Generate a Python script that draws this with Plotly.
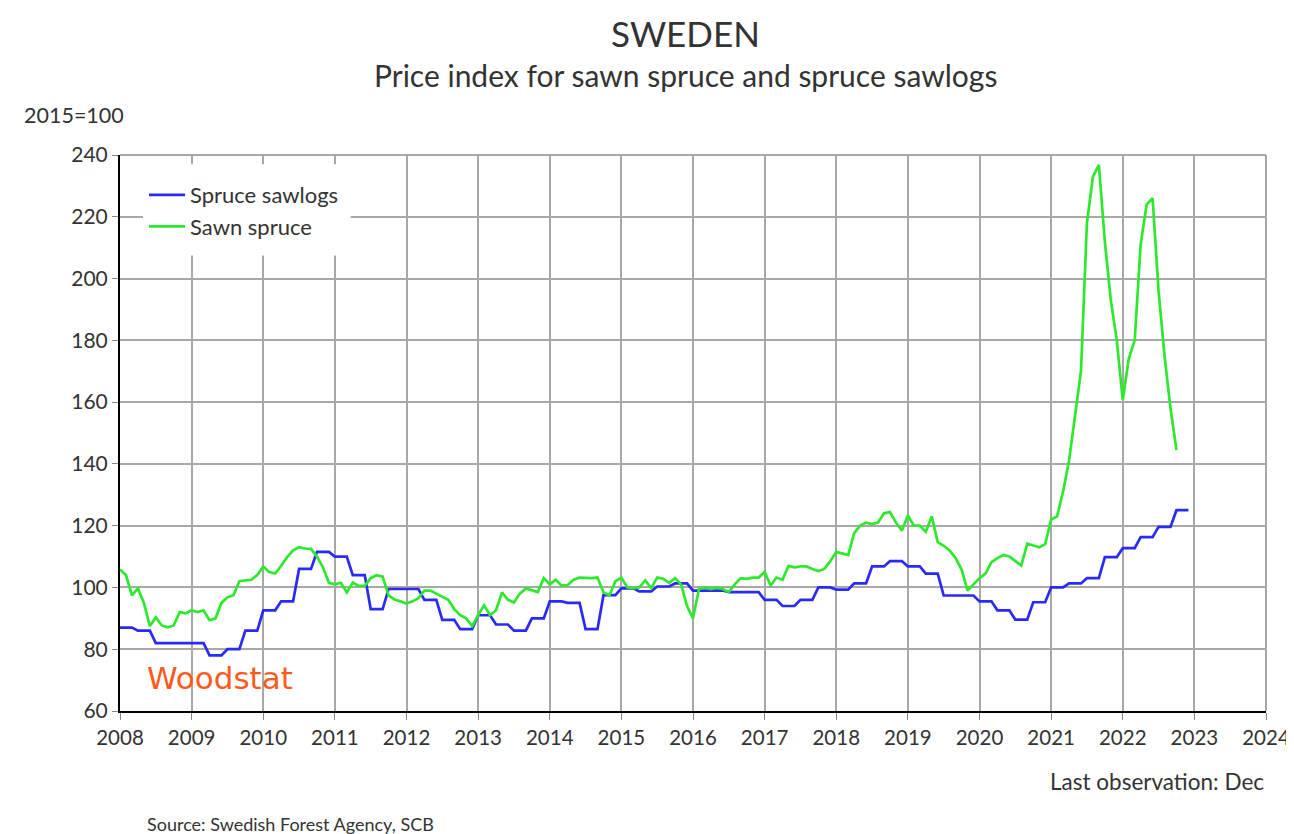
import plotly.graph_objects as go

years = list(range(2008, 2023))

# Spruce sawlogs (quarterly steps, monthly points) 2008-2022
sawlogs = {
    2008: [87, 87, 87, 86, 86, 86, 82, 82, 82, 82, 82, 82],
    2009: [82, 82, 82, 78, 78, 78, 80, 80, 80, 86, 86, 86],
    2010: [92.6, 92.6, 92.6, 95.5, 95.5, 95.5, 106, 106, 106, 111.5, 111.5, 111.5],
    2011: [110, 110, 110, 104, 104, 104, 93, 93, 93, 99.5, 99.5, 99.5],
    2012: [99.5, 99.5, 99.5, 96, 96, 96, 89.5, 89.5, 89.5, 86.5, 86.5, 86.5],
    2013: [91, 91, 91, 88, 88, 88, 86, 86, 86, 90, 90, 90],
    2014: [95.5, 95.5, 95.5, 95, 95, 95, 86.5, 86.5, 86.5, 97.5, 97.5, 97.5],
    2015: [99.7, 99.7, 99.7, 98.7, 98.7, 98.7, 100.3, 100.3, 100.3, 101.3, 101.3, 101.3],
    2016: [99, 99, 99, 99, 99, 99, 98.5, 98.5, 98.5, 98.5, 98.5, 98.5],
    2017: [96, 96, 96, 94, 94, 94, 96, 96, 96, 100, 100, 100],
    2018: [99.3, 99.3, 99.3, 101.3, 101.3, 101.3, 106.8, 106.8, 106.8, 108.5, 108.5, 108.5],
    2019: [106.8, 106.8, 106.8, 104.5, 104.5, 104.5, 97.4, 97.4, 97.4, 97.4, 97.4, 97.4],
    2020: [95.5, 95.5, 95.5, 92.6, 92.6, 92.6, 89.6, 89.6, 89.6, 95.2, 95.2, 95.2],
    2021: [100, 100, 100, 101.3, 101.3, 101.3, 103, 103, 103, 109.8, 109.8, 109.8],
    2022: [112.7, 112.7, 112.7, 116.3, 116.3, 116.3, 119.6, 119.6, 119.6, 125, 125, 125],
}

# Sawn spruce monthly 2008 - Oct 2022
sawn = {
    2008: [105.8, 104, 97.4, 99.7, 95, 87.5, 90.3, 87.7, 87.1, 87.7, 92, 91.6],
    2009: [92.6, 92, 92.6, 89.4, 90, 95, 96.8, 97.5, 102, 102.3, 102.5, 104],
    2010: [106.8, 105, 104.5, 107, 109.8, 112, 113, 112.6, 112.5, 110, 106.5, 101.5],
    2011: [101, 101.5, 98.4, 101.6, 100.5, 100.5, 103, 104, 103.5, 97.4, 96.1, 95.5],
    2012: [94.8, 95.5, 96.5, 99, 99, 98, 97, 96, 93, 91, 90, 87.5],
    2013: [91, 94.2, 91, 92.6, 98.4, 96, 95.1, 98, 99.7, 99, 98.5, 103],
    2014: [101, 102.5, 100.6, 100.8, 102.5, 103.2, 103, 103, 103.2, 98.4, 97.4, 102],
    2015: [103.2, 100, 99.8, 100, 102.3, 99.8, 103.2, 102.8, 101.5, 103, 101, 94],
    2016: [90, 99.5, 100, 99.5, 100, 99.5, 98.5, 101, 103, 102.8, 103.2, 103.2],
    2017: [105, 100.6, 103.2, 102.5, 107, 106.5, 106.8, 106.8, 106, 105.3, 106, 108.5],
    2018: [111.5, 111, 110.5, 117.6, 120, 121, 120.5, 121, 124, 124.4, 121, 118.4],
    2019: [123.3, 120, 120, 118, 123, 114.7, 113.5, 112, 109.5, 105.8, 99, 101],
    2020: [103, 104.5, 108.2, 109.5, 110.5, 110, 108.5, 107.1, 114.2, 113.5, 113, 114],
    2021: [122, 123, 131, 141, 155, 170, 218, 233, 236.8, 212, 193, 180],
    2022: [160.7, 174, 180, 211, 224, 226, 196, 175, 158, 144.5],
}

def series(d):
    xs, ys = [], []
    for y in years:
        for m, v in enumerate(d.get(y, [])):
            xs.append(y + m / 12)
            ys.append(v)
    return xs, ys

x_b, y_b = series(sawlogs)
x_g, y_g = series(sawn)

x_ticks = list(range(2008, 2025))
y_ticks = list(range(60, 241, 20))

FONT = "Lato"
TXT = "#333333"
GRID = "#a8a8a8"

# page offset of the body margin (8px)
OFF = 8
PL, PT, PW, PH = 120, 155, 1146, 556  # plot area in page pixels

def px(X):
    return (X - PL) / PW

def py(Y):
    return (PT + PH - Y) / PH

fig = go.Figure()
fig.add_trace(go.Scatter(x=x_b, y=y_b, mode="lines", name="Spruce sawlogs",
                         line=dict(color="#2a2af8", width=2.7)))
fig.add_trace(go.Scatter(x=x_g, y=y_g, mode="lines", name="Sawn spruce",
                         line=dict(color="#2ee82e", width=2.7)))

fig.update_layout(
    width=1294, height=834,
    margin=dict(l=PL - OFF, r=1294 - (PL - OFF) - PW, t=PT - OFF, b=834 - (PT - OFF) - PH),
    paper_bgcolor="white", plot_bgcolor="white",
    font=dict(family=FONT, color=TXT, size=20),
    showlegend=True,
    legend=dict(x=px(144), y=py(174), xanchor="left", yanchor="top",
                bgcolor="rgba(0,0,0,0)", font=dict(size=22, color=TXT),
                tracegroupgap=0, itemwidth=36),
    xaxis=dict(range=[2008, 2024], tickvals=x_ticks, ticktext=[str(t) for t in x_ticks],
               showgrid=True, gridcolor=GRID, gridwidth=1.5,
               showline=True, linecolor="black", linewidth=2,
               ticks="outside", ticklen=7, tickcolor="#888", tickfont=dict(size=20.5, color=TXT),
               zeroline=False),
    yaxis=dict(range=[60, 240], tickvals=y_ticks,
               showgrid=True, gridcolor=GRID, gridwidth=1.5,
               showline=True, linecolor="black", linewidth=2,
               ticks="outside", ticklen=6, tickcolor="#888", tickfont=dict(size=21, color=TXT),
               zeroline=False),
)

# top and right borders
fig.add_shape(type="line", xref="paper", yref="paper", x0=0, x1=1, y0=1, y1=1,
              line=dict(color=GRID, width=2), layer="above")
fig.add_shape(type="line", xref="paper", yref="paper", x0=1, x1=1, y0=0, y1=1,
              line=dict(color=GRID, width=2), layer="above")
# legend background box
fig.add_shape(type="rect", xref="x", yref="y", x0=2008.32, x1=2011.22, y0=207.5, y1=237,
              fillcolor="white", line=dict(width=0), layer="above")

annots = [
    dict(text="SWEDEN", X=685, Y=33, size=35, xa="center"),
    dict(text="Price index for sawn spruce and spruce sawlogs", X=685, Y=75, size=30, xa="center"),
    dict(text="2015=100", X=22, Y=115, size=21.5, xa="left"),
    dict(text="Last observation: Dec", X=1266, Y=781, size=22.5, xa="right"),
    dict(text="Source: Swedish Forest Agency, SCB", X=145, Y=824, size=18, xa="left"),
]
for a in annots:
    fig.add_annotation(text=a["text"], xref="paper", yref="paper",
                       x=px(a["X"]), y=py(a["Y"]),
                       xanchor=a["xa"], yanchor="middle", showarrow=False,
                       font=dict(size=a["size"], color=TXT, family=FONT))

fig.add_annotation(text="Woodstat", xref="x", yref="y", x=2008.35, y=70.7,
                   xanchor="left", yanchor="middle", showarrow=False,
                   font=dict(size=31, color="#ff5a1e", family="DejaVu Sans"))

fig.write_html("out.html")
